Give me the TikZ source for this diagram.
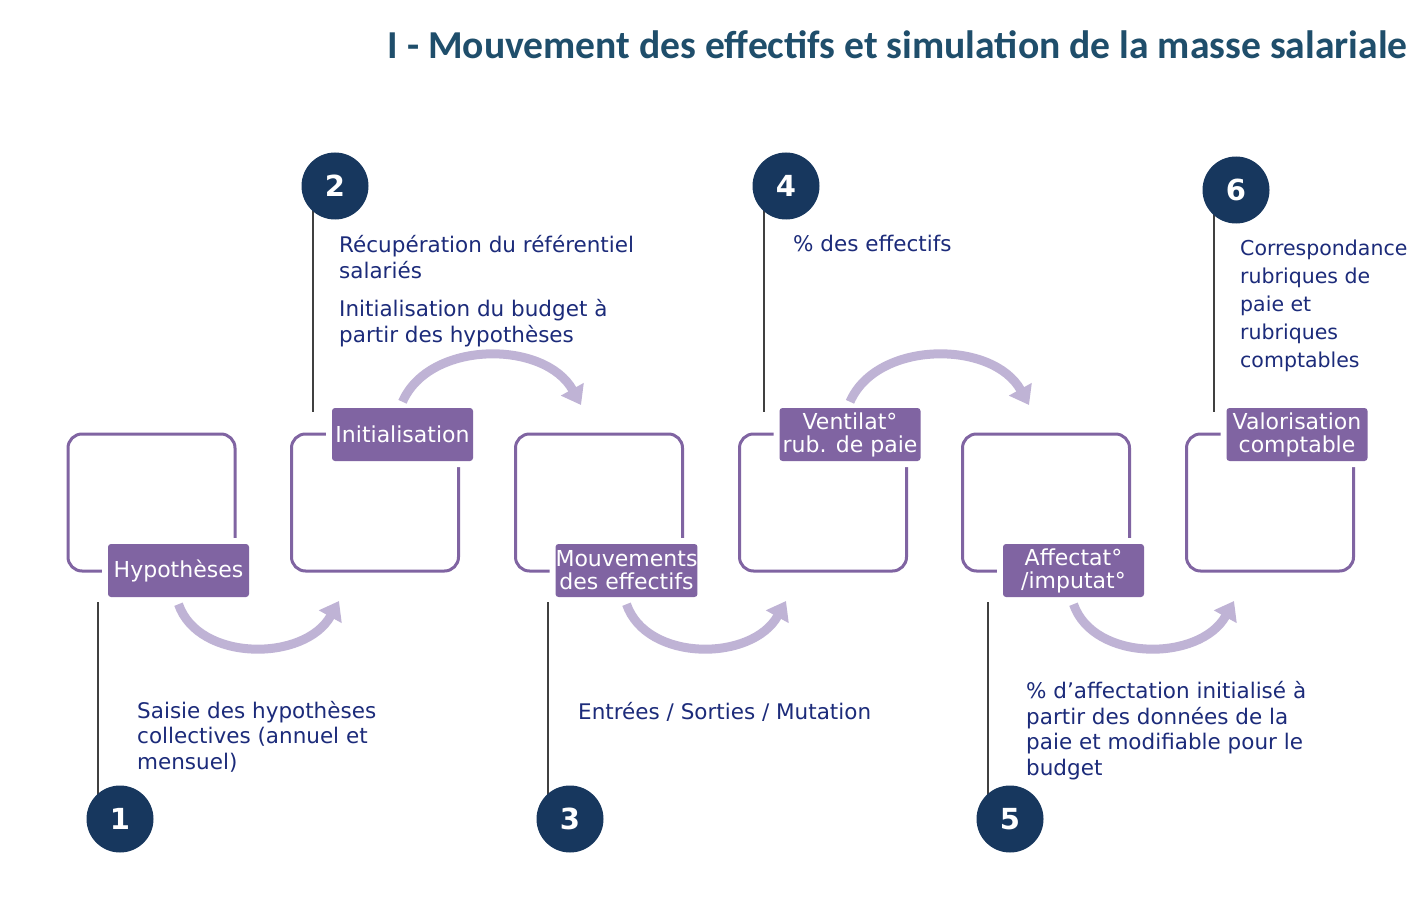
\documentclass[tikz,border=0pt]{standalone}
\usepackage{fontspec}
\setmainfont{DejaVu Sans}
\newfontfamily\titlefont{Carlito}
\usetikzlibrary{arrows.meta,calc}
\definecolor{boxpurple}{HTML}{8064A2}
\definecolor{arrowlav}{HTML}{BFB3D5}
\definecolor{navy}{HTML}{17375E}
\definecolor{textblue}{HTML}{1C2B7A}
\definecolor{titleblue}{HTML}{1F4E6B}
\definecolor{leadgray}{HTML}{404040}
\begin{document}
\begin{tikzpicture}[x=1pt,y=-1pt,
  stepframe/.style={draw=boxpurple, line width=3pt, rounded corners=14pt, minimum width=167pt, minimum height=137pt, inner sep=0pt},
  steplabel/.style={preaction={draw=white,line width=12pt}, fill=boxpurple, rounded corners=3pt, text=white, minimum width=141pt, minimum height=53pt, inner sep=0pt, align=center, font=\fontsize{22}{23}\selectfont},
  numcircle/.style={circle, fill=navy, text=white, minimum size=67pt, inner sep=0pt, font=\bfseries\fontsize{29}{29}\selectfont},
  leader/.style={draw=leadgray, line width=2pt},
  flow/.style={draw=arrowlav, line width=9pt, -{Triangle[length=18pt,width=25pt]}},
  body/.style={text=textblue, anchor=base west, inner sep=0pt, align=left, font=\fontsize{21.5}{25.5}\selectfont}]
\fill[white] (0,0) rectangle (1410,904);
\useasboundingbox (0,0) rectangle (1410,904);

\node[anchor=base east, text=titleblue, inner sep=0pt, font=\titlefont\bfseries\fontsize{39.6}{40}\selectfont] (title) at (1408,59) {I - Mouvement des effectifs et simulation de la masse salariale};

% frames
\node[stepframe] (f1) at (151.5,502.5) {};
\node[stepframe] (f2) at (375,502.5) {};
\node[stepframe] (f3) at (599,502.5) {};
\node[stepframe] (f4) at (823,502.5) {};
\node[stepframe] (f5) at (1046,502.5) {};
\node[stepframe] (f6) at (1270,502.5) {};

% labels
\node[steplabel] (l1) at (178.5,570.5) {Hypothèses};
\node[steplabel] (l2) at (402.5,434.5) {Initialisation};
\node[steplabel] (l3) at (626.5,570.5) {Mouvements\\des effectifs};
\node[steplabel] (l4) at (850,434.5) {Ventilat°\\rub. de paie};
\node[steplabel] (l5) at (1073.5,570.5) {Affectat°\\/imputat°};
\node[steplabel] (l6) at (1297,434.5) {Valorisation\\comptable};

% flow arrows
\coordinate (e1) at (339,601);
\coordinate (e2) at (581,405);
\coordinate (e3) at (786,601);
\coordinate (e4) at (1029,405);
\coordinate (e5) at (1234,601);
\draw[flow] ([yshift=-7pt]l1.south) .. controls +(20,58) and +(-34,61) .. (e1);
\draw[flow] ([yshift=6pt]l2.north) .. controls +(27,-62) and +(-36,-65) .. (e2);
\draw[flow] ([yshift=-7pt]l3.south) .. controls +(20,58) and +(-34,61) .. (e3);
\draw[flow] ([yshift=6pt]l4.north) .. controls +(27,-62) and +(-36,-65) .. (e4);
\draw[flow] ([yshift=-7pt]l5.south) .. controls +(20,58) and +(-34,61) .. (e5);

% numbered circles
\coordinate (p1) at (120,819);
\coordinate (p2) at (335,186);
\coordinate (p3) at (570,819);
\coordinate (p4) at (786,186);
\coordinate (p5) at (1010,819);
\coordinate (p6) at (1236,190);

\draw[leader] ($(p1)+(-22,0)$) -- ($(p1 |- l1.south)+(-22,5)$);
\draw[leader] ($(p2)+(-22,0)$) -- ($(p2 |- l2.north)+(-22,4)$);
\draw[leader] ($(p3)+(-22,0)$) -- ($(p3 |- l3.south)+(-22,5)$);
\draw[leader] ($(p4)+(-22,0)$) -- ($(p4 |- l4.north)+(-22,4)$);
\draw[leader] ($(p5)+(-22,0)$) -- ($(p5 |- l5.south)+(-22,5)$);
\draw[leader] ($(p6)+(-22,0)$) -- ($(p6 |- l6.north)+(-22,4)$);

\node[numcircle] (c1) at (p1) {1};
\node[numcircle] (c2) at (p2) {2};
\node[numcircle] (c3) at (p3) {3};
\node[numcircle] (c4) at (p4) {4};
\node[numcircle] (c5) at (p5) {5};
\node[numcircle] (c6) at (p6) {6};

% texts (base = baseline of the last line)
\node[body] (t1) at (137,769) {Saisie des hypothèses\\collectives (annuel et\\mensuel)};
\node[body] (t2a) at (339,278) {Récupération du référentiel\\salariés};
\node[body] (t2b) at (339,342) {Initialisation du budget à\\partir des hypothèses};
\node[body] (t3) at (578,719) {Entrées / Sorties / Mutation};
\node[body] (t4) at (793,251) {\% des effectifs};
\node[body, font=\fontsize{20.5}{28}\selectfont] (t6) at (1240,367) {Correspondance\\rubriques de\\paie et\\rubriques\\comptables};
\node[body] (t5) at (1026,775) {\% d’affectation initialisé à\\partir des données de la\\paie et modifiable pour le\\budget};
\end{tikzpicture}
\end{document}
